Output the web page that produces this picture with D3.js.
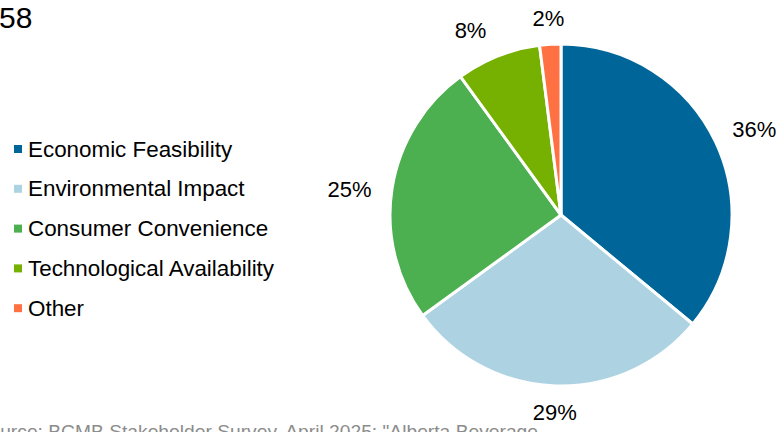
<!DOCTYPE html>
<html>
<head>
<meta charset="utf-8">
<script src="https://cdn.jsdelivr.net/npm/d3@7"></script>
<style>
  html, body { margin: 0; padding: 0; background: #fff; overflow: hidden; }
  svg { display: block; font-family: "Liberation Sans", Arial, sans-serif; }
</style>
</head>
<body>
<div id="chart"></div>
<script>
// data
const categories = ["Economic Feasibility", "Environmental Impact", "Consumer Convenience", "Technological Availability", "Other"];
const shares = [36, 29, 25, 8, 2];
const colors = ["#006699", "#ADD3E3", "#4CAF50", "#76B000", "#FF7043"];
const headerText = "58";
const sourceText = "Source: BCMB Stakeholder Survey, April 2025; \"Alberta Beverage";

const width = 779, height = 432;
const cx = 561, cy = 215, radius = 171;

// small hand nudges so the labels sit where the original tool put them
const labelNudge = [[-1, 6], [0, -3], [0, 8], [-15, 6], [0, 4]];

const svg = d3.select("#chart")
  .append("svg")
  .attr("width", width)
  .attr("height", height);

// partial header text cut at the left edge
svg.append("text")
  .attr("x", -1)
  .attr("y", 28)
  .attr("font-size", "30px")
  .attr("fill", "#000")
  .text(headerText);

const data = categories.map((c, i) => ({ name: c, value: shares[i] }));

const color = d3.scaleOrdinal()
  .domain(categories)
  .range(colors);

const pie = d3.pie()
  .value(d => d.value)
  .sort(null);

const arc = d3.arc()
  .innerRadius(0)
  .outerRadius(radius);

const arcs = pie(data);

const g = svg.append("g")
  .attr("transform", `translate(${cx},${cy})`);

g.selectAll("path")
  .data(arcs)
  .enter()
  .append("path")
  .attr("d", arc)
  .attr("fill", d => color(d.data.name))
  .attr("stroke", "#fff")
  .attr("stroke-width", 3)
  .attr("stroke-linejoin", "round");

// outside-end labels, pushed out by the text box extent
const labelFont = 22;
g.selectAll("text.lbl")
  .data(arcs)
  .enter()
  .append("text")
  .attr("class", "lbl")
  .attr("font-size", labelFont + "px")
  .attr("text-anchor", "middle")
  .attr("dominant-baseline", "central")
  .attr("fill", "#000")
  .text(d => d.data.value + "%")
  .each(function(d, i) {
    const a = (d.startAngle + d.endAngle) / 2;
    const w = this.getComputedTextLength();
    const h = labelFont * 0.8;
    const ext = Math.abs(Math.sin(a)) * w / 2 + Math.abs(Math.cos(a)) * h / 2;
    const r = radius + 20 + ext;
    d3.select(this)
      .attr("x", Math.sin(a) * r + labelNudge[i][0])
      .attr("y", -Math.cos(a) * r + labelNudge[i][1]);
  });

// legend
const legend = svg.append("g")
  .attr("transform", "translate(14,149)");

const rows = legend.selectAll("g")
  .data(categories)
  .enter()
  .append("g")
  .attr("transform", (d, i) => `translate(0,${i * 39.8})`);

rows.append("rect")
  .attr("x", 0)
  .attr("y", -4)
  .attr("width", 8)
  .attr("height", 8)
  .attr("fill", d => color(d));

rows.append("text")
  .attr("x", 14)
  .attr("y", 0)
  .attr("dominant-baseline", "central")
  .attr("font-size", "22.4px")
  .attr("fill", "#000")
  .text(d => d);

// source note, clipped at the left and bottom edges:
// size it so the part after "So" spans 0..srcEnd as in the reference
const srcEnd = 538;
const src = svg.append("text")
  .attr("x", srcEnd)
  .attr("y", 438)
  .attr("text-anchor", "end")
  .attr("font-size", "20px")
  .attr("fill", "#8c8c8c")
  .text(sourceText.slice(2));
const partLen = src.node().getComputedTextLength();
const srcSize = 20 * srcEnd / partLen;
src.attr("font-size", srcSize + "px").text(sourceText);
</script>
</body>
</html>
